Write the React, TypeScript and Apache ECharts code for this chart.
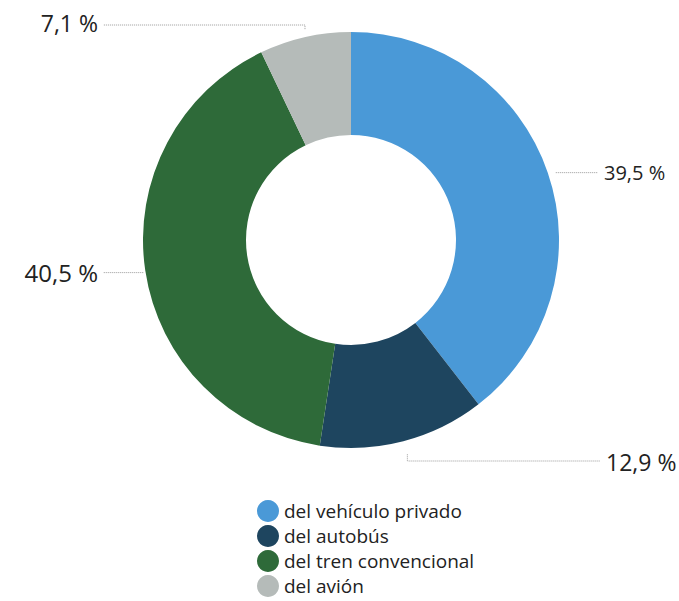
import React, { useEffect, useRef } from "react";
import * as echarts from "echarts";

const categories = ["del vehículo privado", "del autobús", "del tren convencional", "del avión"];
const values = [39.5, 12.9, 40.5, 7.1];
const colors = ["#4a99d7", "#1e455f", "#2e6a39", "#b5bbb9"];
const labelSizes = [20, 23, 24, 23];

const fmt = (v: number) => v.toFixed(1).replace(".", ",") + " %";

export default function App() {
  const ref = useRef<HTMLDivElement>(null);
  useEffect(() => {
    document.body.style.margin = "0";
    const chart = echarts.init(ref.current!, null, { renderer: "svg" });
    const FONT = "'Open Sans', 'Noto Sans', sans-serif";
    chart.setOption({
      animation: false,
      backgroundColor: "#ffffff",
      legend: {
        orient: "vertical",
        left: 257,
        top: 500,
        height: 150,
        padding: 0,
        icon: "circle",
        itemWidth: 22,
        itemHeight: 22,
        itemGap: 3,
        itemTextGap: 15,
        selectedMode: false,
        data: categories,
        textStyle: { fontFamily: FONT, fontSize: 19, lineHeight: 18, color: "#222" },
        itemStyle: { borderWidth: 0 },
      },
      series: [
        {
          type: "pie",
          center: [351, 240],
          radius: [105, 208],
          startAngle: 90,
          clockwise: true,
          data: categories.map((c, i) => ({
            name: c,
            value: values[i],
            itemStyle: { color: colors[i] },
            label: { fontSize: labelSizes[i] },
          })),
          label: {
            show: true,
            formatter: (p: any) => fmt(p.value),
            fontFamily: FONT,
            color: "#222",
          },
          labelLine: {
            show: true,
            lineStyle: { color: "#9a9a9a", width: 1, type: "dotted" },
          },
          labelLayout: (params: any) => {
            const pts = params.labelLinePoints;
            if (!pts) return {};
            const p0 = pts[0];
            const i = params.dataIndex;
            if (i === 0) {
              return {
                x: 604, y: p0[1], align: "left", verticalAlign: "middle",
                labelLinePoints: [[p0[0] + 8, p0[1]], [p0[0] + 9, p0[1]], [598, p0[1]]],
              };
            }
            if (i === 1) {
              return {
                x: 606, y: 462, align: "left", verticalAlign: "middle",
                labelLinePoints: [[p0[0] + 4, p0[1] + 13], [p0[0] + 4, 461], [600, 461]],
              };
            }
            if (i === 2) {
              return {
                x: 98, y: p0[1] + 2, align: "right", verticalAlign: "middle",
                labelLinePoints: [[p0[0] - 2, p0[1] + 2], [p0[0] - 3, p0[1] + 2], [103, p0[1] + 2]],
              };
            }
            return {
              x: 98, y: 23, align: "right", verticalAlign: "middle",
              labelLinePoints: [[p0[0], p0[1] - 8], [p0[0], 25], [103, 25]],
            };
          },
        },
      ],
    });
    return () => chart.dispose();
  }, []);
  return <div ref={ref} style={{ width: 679, height: 601 }} />;
}
